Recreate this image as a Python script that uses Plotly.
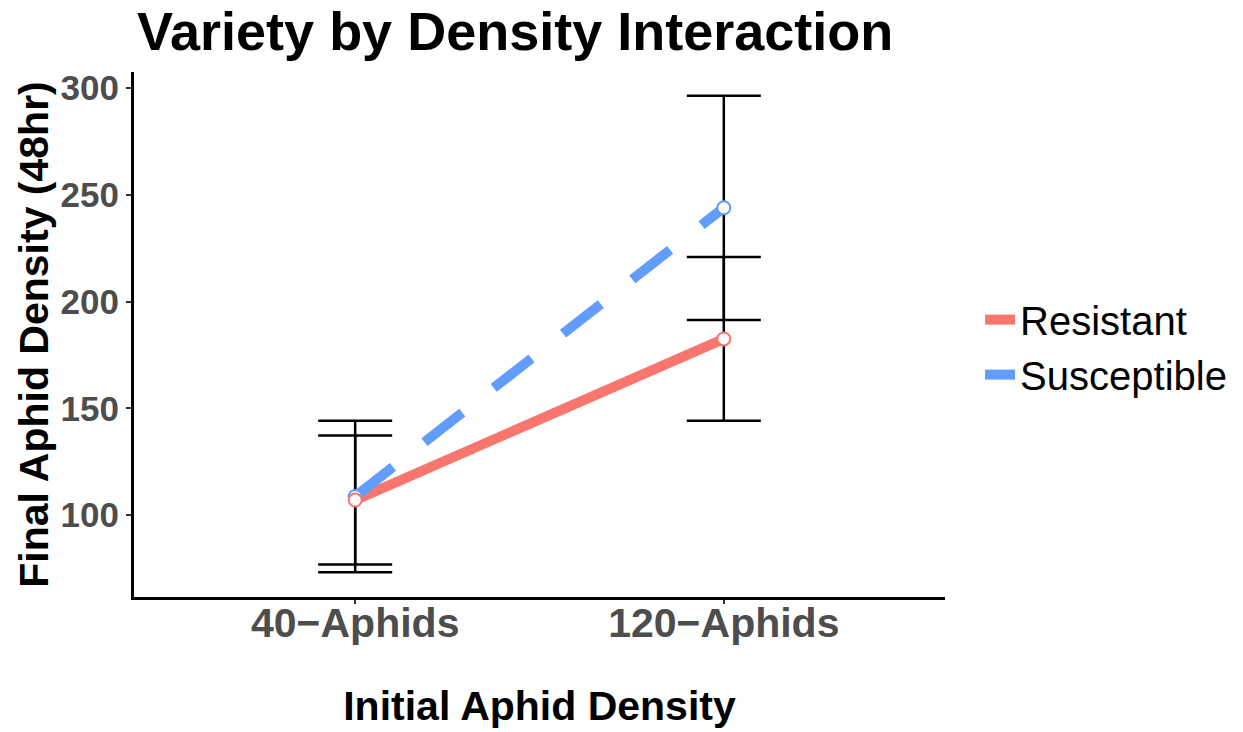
import plotly.graph_objects as go

categories = ["40\u2212Aphids", "120\u2212Aphids"]
resistant_mean = [107, 182.5]
resistant_err = [30.2, 38.4]
susceptible_mean = [108.7, 243.9]
susceptible_err = [35.5, 52.5]
series_names = ["Resistant", "Susceptible"]
colors = ["#F8766D", "#619CFF"]
y_ticks = [100, 150, 200, 250, 300]

x_pos = [1, 2]
fig = go.Figure()

for name, mean, err, col, dash in [
    (series_names[0], resistant_mean, resistant_err, colors[0], "solid"),
    (series_names[1], susceptible_mean, susceptible_err, colors[1], "48px,40px"),
]:
    fig.add_trace(go.Scatter(
        x=x_pos, y=mean, mode="lines", showlegend=False,
        line=dict(color=col, width=10, dash=dash),
        error_y=dict(type="data", array=err, visible=True, color="black", thickness=2.5, width=37),
    ))

for name, mean, col in [
    (series_names[1], susceptible_mean, colors[1]),
    (series_names[0], resistant_mean, colors[0]),
]:
    fig.add_trace(go.Scatter(
        x=x_pos, y=mean, mode="markers", showlegend=False,
        marker=dict(size=13, color="white", line=dict(color=col, width=2)),
    ))

for name, col in zip(series_names, colors):
    fig.add_trace(go.Scatter(
        x=[None], y=[None], mode="lines", name=name,
        line=dict(color=col, width=10),
    ))

fig.update_layout(
    width=1243, height=732,
    margin=dict(l=134, r=297, t=72, b=135),
    paper_bgcolor="white", plot_bgcolor="white",
    title=dict(text="<b>Variety by Density Interaction</b>", xref="container", x=137/1243,
               xanchor="left", y=1-31/732, yanchor="middle", automargin=False,
               font=dict(family="Liberation Sans, Arial, sans-serif", size=54, color="black")),
    font=dict(family="Liberation Sans, Arial, sans-serif"),
    legend=dict(x=1.042, y=0.476, xanchor="left", yanchor="middle",
                font=dict(size=40, color="black"), itemwidth=30, tracegroupgap=0,
                bgcolor="rgba(0,0,0,0)"),
    xaxis=dict(
        range=[0.4, 2.6], tickvals=x_pos, ticktext=["<b>%s</b>" % c for c in categories],
        tickfont=dict(size=41, color="#4D4D4D"), automargin=False, ticklabelstandoff=-16,
        showgrid=False, zeroline=False, showline=True, linecolor="black", linewidth=3,
        ticks="outside", ticklen=4, tickcolor="#333333", tickwidth=2,
        title=dict(text="<b>Initial Aphid Density</b>", font=dict(size=41, color="black"), standoff=47),
    ),
    yaxis=dict(
        range=[61.6, 307.5], tickvals=y_ticks,
        ticktext=["<b>%d</b>" % v for v in y_ticks],
        tickfont=dict(size=35, color="#4D4D4D"), automargin=False,
        showgrid=False, zeroline=False, showline=True, linecolor="black", linewidth=3,
        ticks="outside", ticklen=5, tickcolor="#333333", tickwidth=2,
        title=dict(text="<b>Final Aphid Density (48hr)</b>", font=dict(size=41, color="black"), standoff=0),
    ),
)

fig.write_html("out.html", config={"displayModeBar": False},
               post_script="document.body.style.margin='0';")
